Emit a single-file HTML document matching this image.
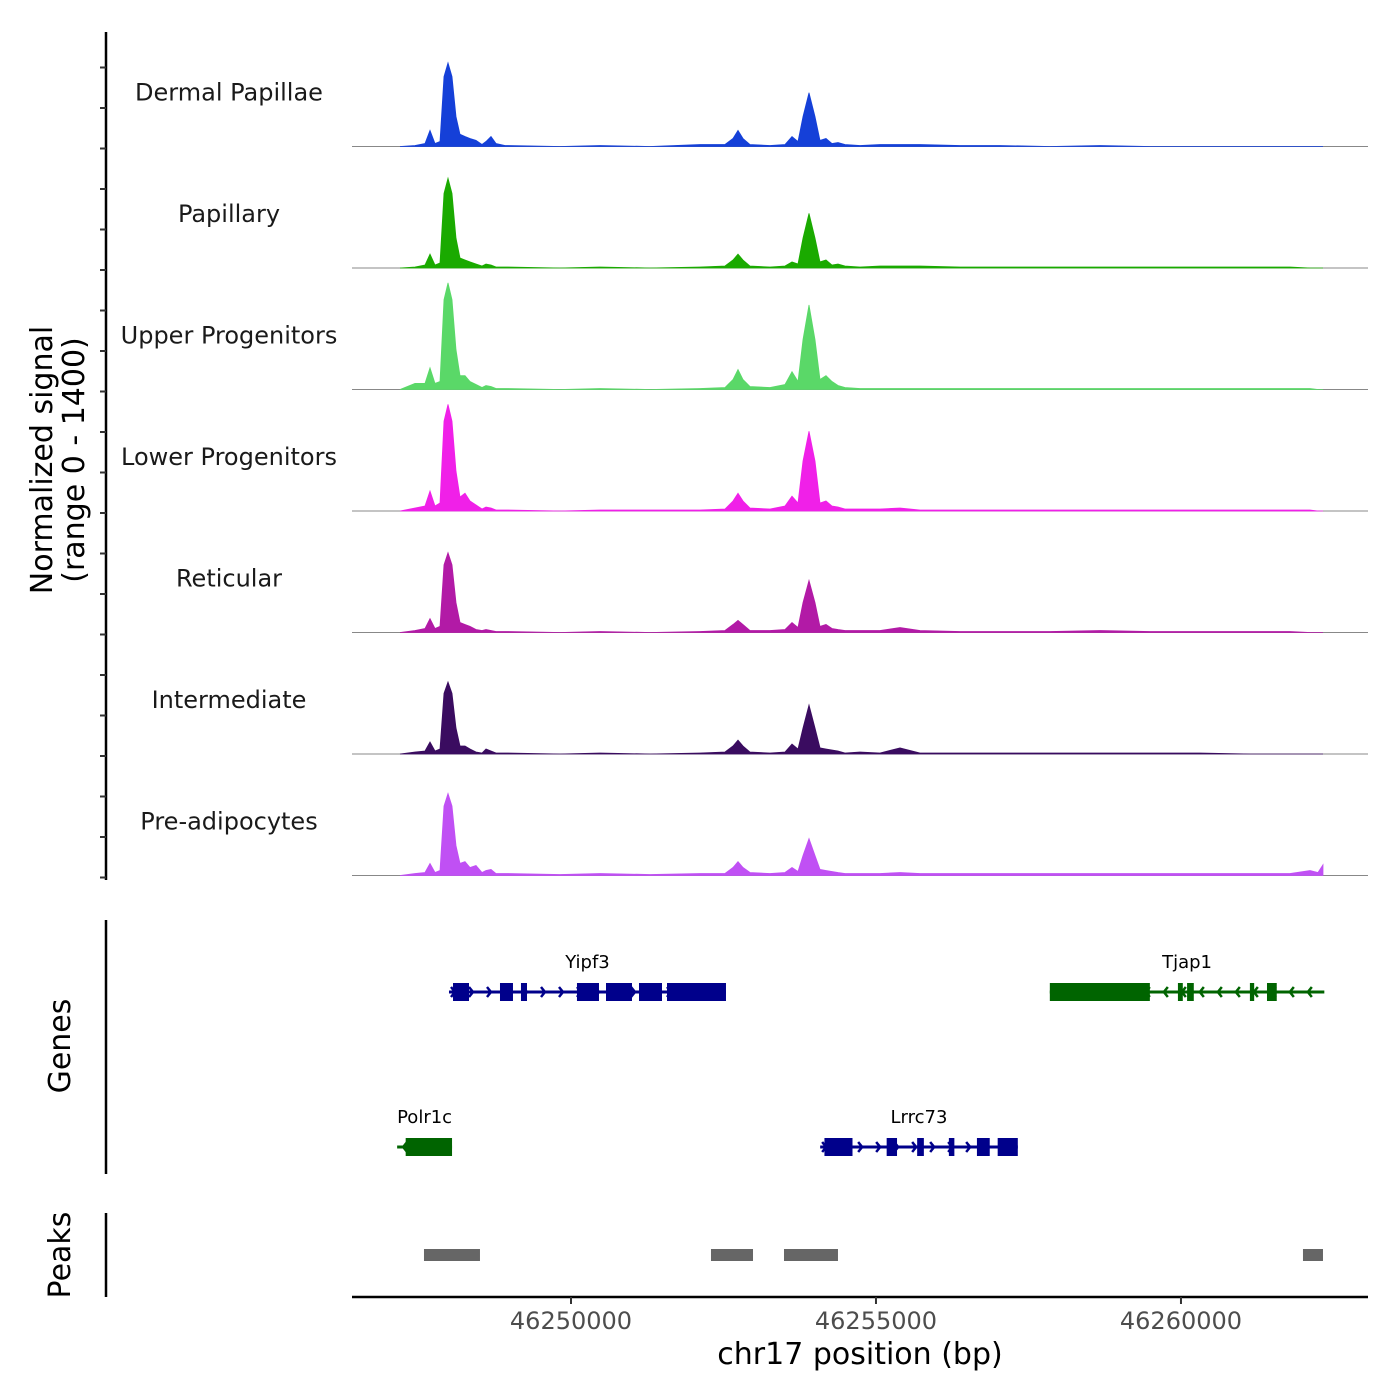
<!DOCTYPE html>
<html><head><meta charset="utf-8"><style>
html,body{margin:0;padding:0;background:#fff;}
svg{display:block;font-family:"DejaVu Sans","Liberation Sans",sans-serif;}
</style></head><body>
<svg id="chart" width="1400" height="1400" viewBox="0 0 1400 1400" xmlns="http://www.w3.org/2000/svg"></svg>
<script>
// ---- data ----
const xTickValues = [46250000, 46255000, 46260000];
const xTickLabels = ["46250000", "46255000", "46260000"];
const trackNames = ["Dermal Papillae","Papillary","Upper Progenitors","Lower Progenitors","Reticular","Intermediate","Pre-adipocytes"];
const trackColors = ["#1540d8","#1aaa00","#5ad868","#f020e8","#b21aa6","#3a0c60","#c050f4"];
const binPositions = [46247197,46247443,46247607,46247689,46247770,46247852,46247918,46247984,46248049,46248115,46248180,46248262,46248344,46248443,46248541,46248607,46248689,46248770,46248918,46249820,46250475,46251295,46252115,46252525,46252656,46252738,46252820,46252934,46253262,46253508,46253623,46253721,46253803,46253902,46254000,46254082,46254180,46254279,46254377,46254492,46254738,46255066,46255393,46255721,46256377,46257033,46257852,46258672,46259492,46260311,46261131,46261787,46262115,46262246,46262328];
const sigDermal =  [0,12,35,185,35,58,805,965,805,345,140,115,92,70,23,58,115,35,12,0,12,0,23,23,92,185,92,23,12,23,115,58,345,620,345,70,92,35,46,23,12,23,23,23,12,12,0,12,0,0,0,0,0,0,0];
const sigPapill =  [0,12,35,160,35,58,860,1035,860,345,115,92,70,46,23,46,35,12,12,0,12,0,12,23,92,160,92,23,12,23,70,46,345,630,345,70,92,35,46,23,12,23,23,23,12,12,12,12,12,12,12,12,0,0,0];
const sigUpper =   [0,70,70,250,70,92,1035,1230,1035,460,160,160,92,58,23,46,35,12,12,0,12,0,12,23,115,230,115,35,23,58,205,92,575,975,575,115,160,92,46,23,12,12,12,12,12,12,12,12,12,12,12,12,12,0,0];
const sigLower =   [0,35,58,230,58,92,1035,1230,1035,460,160,205,115,70,23,46,35,12,12,0,12,12,12,23,115,205,115,35,23,58,170,92,575,920,575,92,115,58,46,23,23,23,35,12,12,12,12,12,12,12,12,12,12,0,0];
const sigRetic =   [0,23,46,160,46,70,780,920,780,345,115,92,70,35,23,35,23,12,12,0,12,0,12,23,92,140,92,23,23,35,115,58,345,600,345,70,92,46,35,23,23,23,58,23,12,12,12,23,12,12,12,12,0,0,0];
const sigInterm =  [0,23,35,140,35,58,700,830,700,300,92,92,58,23,12,58,35,12,12,0,12,0,12,23,92,160,92,23,12,23,115,58,300,565,300,70,58,46,35,12,23,12,70,12,12,12,12,12,12,12,0,0,0,0,0];
const sigPreadip = [0,23,35,140,35,58,800,945,800,345,140,160,92,115,35,58,70,23,23,12,23,12,23,23,92,160,92,35,23,35,92,46,230,425,230,70,58,46,35,23,23,23,35,23,23,23,23,23,23,23,23,23,58,35,125];
const signals = [sigDermal,sigPapill,sigUpper,sigLower,sigRetic,sigInterm,sigPreadip];
const geneNames = ["Yipf3","Tjap1","Polr1c","Lrrc73"];
const geneStrand = ["+","-","-","+"];
const geneRow = [0,0,1,1];
const geneStart = [46248000,46257850,46247150,46254085];
const geneEnd = [46252541,46262350,46248050,46257325];
const geneExons = [
 [[46248066,46248328],[46248836,46249049],[46249180,46249279],[46250098,46250459],[46250574,46251000],[46251115,46251492],[46251574,46252541]],
 [[46257850,46259490],[46259950,46260030],[46260100,46260210],[46261130,46261200],[46261410,46261570]],
 [[46247290,46248050]],
 [[46254155,46254615],[46255175,46255345],[46255675,46255785],[46256195,46256285],[46256655,46256865],[46256995,46257325]]
];
const peakStart = [46247590,46252295,46253492,46262000];
const peakEnd = [46248508,46252984,46254377,46262328];

// ---- scales ----
const X0=352, X1=1368, BP0=46246410, BP1=46263066;
const xs = bp => X0 + (bp-BP0)/(BP1-BP0)*(X1-X0);
const TRACK_TOP=25, TRACK_H=121.5, YMAX=1400;
const ys = (i,v) => TRACK_TOP + (i+1)*TRACK_H - v/YMAX*TRACK_H;

const svg = document.getElementById('chart');
const NS="http://www.w3.org/2000/svg";
function mk(tag, attrs, parent){const e=document.createElementNS(NS,tag);for(const k in attrs)e.setAttribute(k,attrs[k]);(parent||svg).appendChild(e);return e;}

// left axis
const ax = mk('line',{x1:106,y1:32,x2:106,y2:880,stroke:'#000','stroke-width':2.5});


for(let y=67.5;y<=880;y+=40.5){
  const t=mk('line',{x1:100,y1:y,x2:106,y2:y,stroke:'#333','stroke-width':2});
  
  
}
const yt = mk('text',{transform:'translate(52,460) rotate(-90)','text-anchor':'middle','font-size':30,fill:'#000'});


mk('tspan',{x:0,dy:0},yt).textContent='Normalized signal';
mk('tspan',{x:0,dy:32},yt).textContent='(range 0 - 1400)';

// tracks
trackNames.forEach((name,i)=>{
  const g=mk('g',{});
  
  
  const base=ys(i,0);
  const ln=mk('line',{x1:X0,y1:base,x2:X1,y2:base,stroke:'#888','stroke-width':1},g);
  
  
  let d='M'+xs(binPositions[0])+','+base;
  signals[i].forEach((v,j)=>{d+=' L'+xs(binPositions[j]).toFixed(1)+','+ys(i,v).toFixed(1);});
  d+=' L'+xs(binPositions[binPositions.length-1])+','+base+' Z';
  const p=mk('path',{d:d,fill:trackColors[i],stroke:trackColors[i],'stroke-width':0.8},g);
  
  
  const lb=mk('text',{x:229,y:ys(i,0)-46,'text-anchor':'middle','font-size':24,fill:'#1a1a1a'},g);
  
  
  lb.textContent=name;
});

// genes
const gax=mk('line',{x1:106,y1:920,x2:106,y2:1174,stroke:'#000','stroke-width':2.5});


const gt=mk('text',{transform:'translate(70,1046) rotate(-90)','text-anchor':'middle','font-size':30,fill:'#000'});


gt.textContent='Genes';
geneNames.forEach((name,i)=>{
  const col=geneStrand[i]==='+'?'#00008b':'#006400';
  const cy=geneRow[i]===0?992:1147;
  const g=mk('g',{});
  
  
  const x1=xs(geneStart[i]), x2=xs(geneEnd[i]);
  mk('line',{x1:x1,y1:cy,x2:x2,y2:cy,stroke:col,'stroke-width':3},g);
  for(let x=x1+6;x<x2-4;x+=18){
    const dx=geneStrand[i]==='+'?-4:4;
    mk('polyline',{points:(x+dx)+','+(cy-5)+' '+x+','+cy+' '+(x+dx)+','+(cy+5),fill:'none',stroke:col,'stroke-width':2.5},g);
  }
  geneExons[i].forEach(e=>{
    const r=mk('rect',{x:xs(e[0]),y:cy-9,width:Math.max(3,xs(e[1])-xs(e[0])),height:18,fill:col},g);
    
    
  });
  const t=mk('text',{x:(x1+x2)/2,y:cy-24,'text-anchor':'middle','font-size':18,fill:'#000'},g);
  
  
  t.textContent=name;
});

// peaks
const pax=mk('line',{x1:106,y1:1213,x2:106,y2:1297,stroke:'#000','stroke-width':2.5});


const pt=mk('text',{transform:'translate(70,1255) rotate(-90)','text-anchor':'middle','font-size':30,fill:'#000'});


pt.textContent='Peaks';
peakStart.forEach((s,i)=>{
  const r=mk('rect',{x:xs(s),y:1249,width:xs(peakEnd[i])-xs(s),height:12,fill:'#666'});
  
  
});

// x axis
const xa=mk('line',{x1:X0,y1:1297,x2:X1,y2:1297,stroke:'#000','stroke-width':2.5});


xTickValues.forEach((v,i)=>{
  const t=mk('line',{x1:xs(v),y1:1297,x2:xs(v),y2:1304,stroke:'#333','stroke-width':2});
  
  
  const l=mk('text',{x:xs(v),y:1329,'text-anchor':'middle','font-size':24,fill:'#4d4d4d'});
  
  
  l.textContent=xTickLabels[i];
});
const xt=mk('text',{x:860,y:1364,'text-anchor':'middle','font-size':30,fill:'#000'});


xt.textContent='chr17 position (bp)';
</script>
</body></html>
